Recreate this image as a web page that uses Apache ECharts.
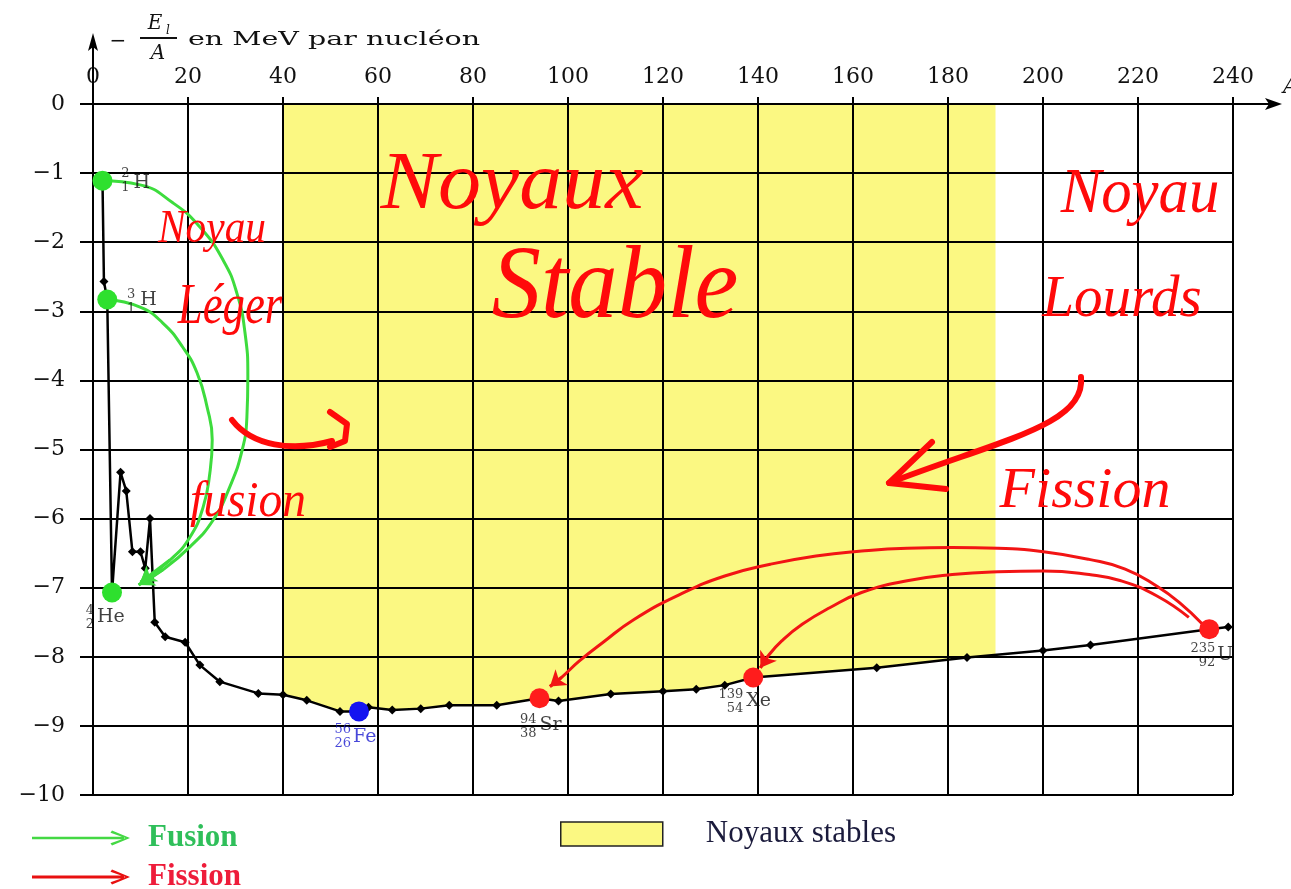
<!DOCTYPE html>
<html>
<head>
<meta charset="utf-8">
<script src="https://cdn.jsdelivr.net/npm/echarts/dist/echarts.min.js"></script>
<style>html,body{margin:0;padding:0;background:#fff}#c{width:1291px;height:889px}</style>
</head>
<body>
<div id="c"></div>
<script>
// ---------- axes ----------
const xMin = 0, xMax = 240, xStep = 20;
const yMin = -10, yMax = 0, yStep = 1;

// ---------- binding-energy curve (A, -El/A in MeV) ----------
const curveA = [2, 2.3, 3, 4, 5.8, 7, 8.3, 10, 11, 12, 13, 15.2, 19.4, 22.5, 26.7, 34.8, 40, 45, 52, 56, 58, 63, 69, 75, 85, 94, 98, 109, 120, 127, 133, 139, 165, 184, 200, 210, 235, 239];
const curveE = [-1.11, -2.57, -2.83, -7.07, -5.33, -5.6, -6.48, -6.48, -6.72, -6.0, -7.5, -7.71, -7.79, -8.12, -8.36, -8.53, -8.55, -8.63, -8.79, -8.79, -8.73, -8.77, -8.75, -8.70, -8.70, -8.60, -8.64, -8.54, -8.50, -8.47, -8.41, -8.30, -8.16, -8.01, -7.91, -7.83, -7.60, -7.57];

// ---------- stable nuclei band ----------
const stableFrom = 40, stableTo = 190, stableEdgeE = -7.96;

// ---------- labelled nuclides ----------
const nuclideSymbol = ['H', 'H', 'He', 'Fe', 'Sr', 'Xe', 'U'];
const nuclideMass   = [2, 3, 4, 56, 94, 139, 235];
const nuclideZ      = [1, 1, 2, 26, 38, 54, 92];
const nuclideE      = [-1.11, -2.83, -7.07, -8.79, -8.60, -8.30, -7.60];
const nuclideRole   = ['fusion', 'fusion', 'fusion', 'iron', 'fission', 'fission', 'fission'];

// ---------- reaction arrows (read along the drawn arcs) ----------
const fusionArc1A = [2, 9.9, 16.8, 22.5, 27.4, 30.3, 32, 32.6, 32.4, 31.4, 28.8, 25.3, 20.4, 14.7, 9.6];
const fusionArc1E = [-1.11, -1.17, -1.43, -1.78, -2.26, -2.74, -3.31, -3.95, -4.53, -5.01, -5.54, -6.02, -6.41, -6.74, -6.96];
const fusionArc2A = [3, 9.9, 14.7, 18.9, 21.9, 24, 25.1, 24.6, 23.2, 20.4, 16.2, 10];
const fusionArc2E = [-2.83, -2.94, -3.17, -3.52, -3.89, -4.38, -4.86, -5.34, -5.83, -6.27, -6.6, -6.92];
const fissionArc1A = [233.6, 228.8, 224, 217.3, 209.7, 200.1, 190.5, 180.9, 171.4, 161.8, 152.2, 142.6, 133, 123.5, 113.9, 107.2, 102.4, 98.6, 96.2];
const fissionArc1E = [-7.53, -7.22, -6.98, -6.73, -6.59, -6.48, -6.43, -6.42, -6.43, -6.47, -6.54, -6.66, -6.83, -7.10, -7.46, -7.80, -8.06, -8.30, -8.43];
const fissionArc2A = [230.7, 224, 216.4, 209.7, 200.1, 190.5, 180.9, 171.4, 161.8, 155.1, 149.3, 145, 142.1, 140.5];
const fissionArc2E = [-7.43, -7.12, -6.90, -6.81, -6.76, -6.77, -6.81, -6.90, -7.07, -7.29, -7.53, -7.77, -7.99, -8.16];

const legendNames = ['Fusion', 'Fission', 'Noyaux stables'];

// ---------- styles ----------
const serif = 'DejaVu Serif';
const GREEN = '#3ddc3d', RED = '#f21414', BLUE = '#1414f0', YELLOW = '#fbf882';
const roleColor = { fusion: '#2ee02e', iron: BLUE, fission: '#ff1c1c' };
const labelPos = [
  { num: [27, 0],   sym: [31, 2],  color: '#111' },
  { num: [28, 2],   sym: [33, 1],  color: '#111' },
  { num: [-18, 25], sym: [-15, 25], color: '#111' },
  { num: [-8, 25],  sym: [-6, 26], color: '#1a1ad0' },
  { num: [-3, 28],  sym: [0, 27],  color: '#111' },
  { num: [-10, 24], sym: [-7, 24], color: '#111' },
  { num: [6, 26],   sym: [8, 26],  color: '#111' }
];

const zip = (a, b) => a.map((v, i) => [v, b[i]]);

const stableData = zip(curveA, curveE).filter(p => p[0] >= stableFrom && p[0] <= stableTo);
stableData.push([stableTo, stableEdgeE]);

function arcSeries(name, A, E, color) {
  const n = A.length;
  return {
    type: 'line', name: name, data: zip(A, E), smooth: 0.5, showSymbol: false, z: 4,
    lineStyle: { color: color, width: 3 }, itemStyle: { color: color },
    silent: true,
    markLine: {
      silent: true, symbol: ['none', 'arrow'], symbolSize: 15, label: { show: false },
      lineStyle: { color: color, width: 3, type: 'solid' },
      emphasis: { disabled: true },
      data: [[{ coord: [A[n - 2], E[n - 2]] }, { coord: [A[n - 1], E[n - 1]] }]]
    }
  };
}

const chart = echarts.init(document.getElementById('c'));

const option = {
  animation: false,
  backgroundColor: '#ffffff',
  grid: { left: 93, right: 58, top: 104, bottom: 94, containLabel: false, outerBoundsMode: 'none' },
  xAxis: {
    type: 'value', position: 'top', min: xMin, max: xMax, interval: xStep,
    axisLine: { show: true, onZero: false, lineStyle: { color: '#000', width: 2 } },
    axisTick: { show: true, inside: false, length: 7, lineStyle: { color: '#000', width: 2 } },
    axisLabel: { show: true, margin: 16, color: '#111', fontFamily: serif, fontSize: 22, showMinLabel: true, showMaxLabel: true },
    splitLine: { show: true, lineStyle: { color: '#000', width: 2 } }
  },
  yAxis: {
    type: 'value', min: yMin, max: yMax, interval: yStep,
    axisLine: { show: true, onZero: false, lineStyle: { color: '#000', width: 2 } },
    axisTick: { show: true, inside: false, length: 13, lineStyle: { color: '#000', width: 2 } },
    axisLabel: {
      show: true, margin: 28, color: '#111', fontFamily: serif, fontSize: 22, showMinLabel: true, showMaxLabel: true,
      formatter: v => v === 0 ? '0' : '\u2212' + Math.abs(v)
    },
    splitLine: { show: true, lineStyle: { color: '#000', width: 2 } }
  },
  legend: [
    {
      orient: 'vertical', left: 32, top: 822, height: 90, padding: 0,
      itemWidth: 100, itemHeight: 15, itemGap: 7,
      selectedMode: false,
      textStyle: { fontFamily: 'Liberation Serif', fontWeight: 'bold', fontSize: 31, lineHeight: 32, padding: [0, 0, 0, 12] },
      data: [
        { name: legendNames[0], icon: 'path://M0,6.3 L92,6.3 L92,8.7 L0,8.7 Z M80,0 L98,7.5 L80,15 L78.5,12.8 L93.5,7.5 L78.5,2.2 Z',
          itemStyle: { color: '#44d844', borderWidth: 0 }, textStyle: { color: '#2fbf5a' } },
        { name: legendNames[1], icon: 'path://M0,6 L92,6 L92,9 L0,9 Z M80,0 L98,7.5 L80,15 L78.5,12.8 L93.5,7.5 L78.5,2.2 Z',
          itemStyle: { color: '#e81010', borderWidth: 0 }, textStyle: { color: '#ee1c3a' } }
      ]
    },
    {
      orient: 'horizontal', left: 560, top: 818, padding: 0, height: 60, itemWidth: 102, itemHeight: 24,
      selectedMode: false,
      textStyle: { fontFamily: 'Liberation Serif', fontSize: 31, lineHeight: 32, color: '#1b1b3c', padding: [0, 0, 0, 38] },
      data: [
        { name: legendNames[2], icon: 'rect', itemStyle: { color: YELLOW, borderColor: '#222', borderWidth: 1.5 } }
      ]
    }
  ],
  series: [
    {
      type: 'line', name: legendNames[2], data: stableData, z: -1, showSymbol: false, silent: true,
      lineStyle: { width: 0 }, itemStyle: { color: YELLOW },
      areaStyle: { color: YELLOW, opacity: 1, origin: 'end' }
    },
    {
      type: 'line', name: 'courbe', data: zip(curveA, curveE), z: 3, silent: true,
      symbol: 'diamond', symbolSize: 9, showSymbol: true,
      lineStyle: { color: '#000', width: 2.5 }, itemStyle: { color: '#000' }
    },
    arcSeries(legendNames[0], fusionArc1A, fusionArc1E, GREEN),
    arcSeries(legendNames[0], fusionArc2A, fusionArc2E, GREEN),
    arcSeries(legendNames[1], fissionArc1A, fissionArc1E, RED),
    arcSeries(legendNames[1], fissionArc2A, fissionArc2E, RED),
    {
      type: 'scatter', name: 'noyaux', z: 6, silent: true, symbolSize: 20,
      data: nuclideMass.map((a, i) => ({ value: [a, nuclideE[i]], itemStyle: { color: roleColor[nuclideRole[i]], opacity: 1 } }))
    },
    {
      type: 'scatter', name: 'nombres', z: 7, silent: true, symbolSize: 1, itemStyle: { color: 'rgba(0,0,0,0)' },
      data: nuclideMass.map((a, i) => ({
        value: [a, nuclideE[i]],
        label: {
          show: true, position: 'inside', align: 'right', verticalAlign: 'middle', offset: labelPos[i].num,
          formatter: '{m|' + a + '}\n{z|' + nuclideZ[i] + '}',
          rich: {
            m: { fontFamily: serif, fontSize: 13, lineHeight: 14, align: 'right', color: labelPos[i].color },
            z: { fontFamily: serif, fontSize: 13, lineHeight: 14, align: 'right', color: labelPos[i].color }
          }
        }
      }))
    },
    {
      type: 'scatter', name: 'symboles', z: 7, silent: true, symbolSize: 1, itemStyle: { color: 'rgba(0,0,0,0)' },
      data: nuclideMass.map((a, i) => ({
        value: [a, nuclideE[i]],
        label: {
          show: true, position: 'inside', align: 'left', verticalAlign: 'middle', offset: labelPos[i].sym,
          formatter: nuclideSymbol[i], fontFamily: serif, fontSize: 19, color: labelPos[i].color
        }
      }))
    }
  ]
};

chart.setOption(option);

// ---------- decorations: axis arrows, titles, handwritten notes ----------
const corner = chart.convertToPixel({ gridIndex: 0 }, [xMax, yMax]);
const origin = chart.convertToPixel({ gridIndex: 0 }, [xMin, yMax]);
const ox = origin[0], oy = origin[1];

const hand = (text, x, y, size, sx) => ({
  type: 'text', x: x, y: y, z: 120, scaleX: sx || 1, silent: true,
  style: { text: text, font: 'italic ' + size + 'px "Liberation Serif"', fill: '#ff0a0a', align: 'center', verticalAlign: 'middle' }
});
const stroke = { stroke: '#ff0a0a', lineWidth: 6, lineCap: 'round', lineJoin: 'round', fill: null };

chart.setOption({
  graphic: [
    // x axis extension & arrow
    { type: 'line', z: 50, silent: true, shape: { x1: corner[0], y1: corner[1], x2: corner[0] + 38, y2: corner[1] }, style: { stroke: '#000', lineWidth: 2 } },
    { type: 'polygon', z: 50, silent: true, shape: { points: [[corner[0] + 49, corner[1]], [corner[0] + 32, corner[1] - 6], [corner[0] + 36, corner[1]], [corner[0] + 32, corner[1] + 6]] }, style: { fill: '#000' } },
    { type: 'text', z: 50, silent: true, x: corner[0] + 50, y: corner[1] - 17, style: { text: 'A', font: 'italic 22px "DejaVu Serif"', fill: '#111', align: 'left', verticalAlign: 'middle' } },
    // y axis extension & arrow
    { type: 'line', z: 50, silent: true, shape: { x1: ox, y1: oy, x2: ox, y2: oy - 58 }, style: { stroke: '#000', lineWidth: 2 } },
    { type: 'polygon', z: 50, silent: true, shape: { points: [[ox, oy - 71], [ox - 5, oy - 53], [ox, oy - 57], [ox + 5, oy - 53]] }, style: { fill: '#000' } },
    // y axis title: - El/A en MeV par nucléon
    { type: 'text', z: 50, silent: true, x: 118, y: 42, style: { text: '\u2212', font: '20px "DejaVu Serif"', fill: '#111', align: 'center', verticalAlign: 'middle' } },
    { type: 'text', z: 50, silent: true, x: 155, y: 24, style: { text: 'E', font: 'italic 20px "DejaVu Serif"', fill: '#111', align: 'center', verticalAlign: 'middle' } },
    { type: 'text', z: 50, silent: true, x: 168, y: 31, style: { text: 'l', font: 'italic 12px "DejaVu Serif"', fill: '#111', align: 'center', verticalAlign: 'middle' } },
    { type: 'line', z: 50, silent: true, shape: { x1: 140, y1: 38, x2: 177, y2: 38 }, style: { stroke: '#111', lineWidth: 2 } },
    { type: 'text', z: 50, silent: true, x: 158, y: 54, style: { text: 'A', font: 'italic 20px "DejaVu Serif"', fill: '#111', align: 'center', verticalAlign: 'middle' } },
    { type: 'text', z: 50, silent: true, x: 188, y: 40, scaleX: 1.5, style: { text: 'en MeV par nucléon', font: '19px "DejaVu Serif"', fill: '#111', align: 'left', verticalAlign: 'middle' } },
    // handwritten notes
    hand('Noyaux', 512, 186, 82, 1.05),
    hand('Stable', 615, 290, 104, 0.95),
    hand('Noyau', 212, 230, 46, 0.9),
    hand('Léger', 230, 308, 56, 0.8),
    hand('fusion', 248, 503, 50, 0.95),
    hand('Noyau', 1140, 195, 64, 0.95),
    hand('Lourds', 1122, 300, 60, 0.95),
    hand('Fission', 1085, 492, 58, 1.0),
    { type: 'bezierCurve', z: 120, silent: true, shape: { x1: 232, y1: 420, cpx1: 252, cpy1: 446, cpx2: 292, cpy2: 452, x2: 332, y2: 441 }, style: stroke },
    { type: 'polyline', z: 120, silent: true, shape: { points: [[330, 412], [347, 424], [345, 441], [330, 447]] }, style: stroke },
    { type: 'bezierCurve', z: 120, silent: true, shape: { x1: 1081, y1: 377, cpx1: 1086, cpy1: 425, cpx2: 1000, cpy2: 440, x2: 889, y2: 483 }, style: stroke },
    { type: 'polyline', z: 120, silent: true, shape: { points: [[932, 442], [889, 483], [946, 489]] }, style: stroke }
  ]
});
</script>
</body>
</html>
